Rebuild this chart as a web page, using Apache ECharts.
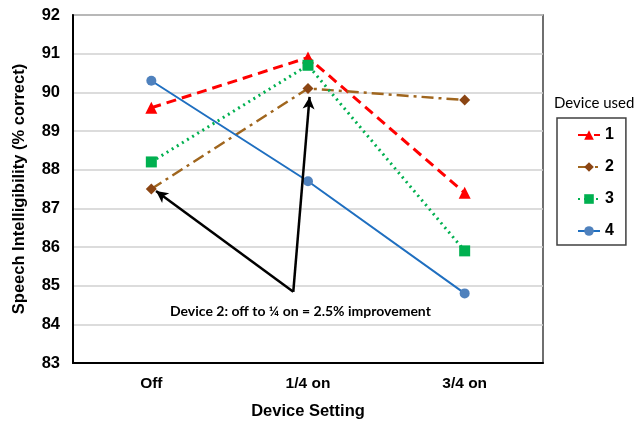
<!DOCTYPE html>
<html><head><meta charset="utf-8">
<script src="https://cdn.jsdelivr.net/npm/echarts@6/dist/echarts.min.js"></script>
<style>html,body{margin:0;padding:0;background:#fff}#c{width:636px;height:421px}</style>
</head><body><div id="c"></div>
<script>
const categories = ['Off', '1/4 on', '3/4 on'];
const device1 = [89.6, 90.9, 87.4];
const device2 = [87.5, 90.1, 89.8];
const device3 = [88.2, 90.7, 85.9];
const device4 = [90.3, 87.7, 84.8];
const seriesNames = ['1', '2', '3', '4'];
const yTicks = {min: 83, max: 92, interval: 1};
// annotation arrows in data units: [x index, y value]
const arrowStart = [0.906, 84.84];
const arrowEnd1 = [0.03, 87.45];
const arrowEnd2 = [1.01, 89.88];
const annotationText = 'Device 2: off to \u00BC on = 2.5% improvement';

const chart = echarts.init(document.getElementById('c'));
const mk = (name, data, color, mColor, lw, ltype, symbol, ssize) => ({
  name, type: 'line', data, symbol, symbolSize: ssize,
  lineStyle: {color, width: lw, type: ltype},
  itemStyle: {color: mColor, borderWidth: 0},
  emphasis: {disabled: true}, z: 3
});
const boldFont = 'Liberation Sans, Arial';
chart.setOption({
  animation: false,
  grid: {left: 73, right: 93, top: 15, bottom: 58, show: true, borderColor: '#404040', borderWidth: 1.5,
         outerBoundsMode: 'none', containLabel: false},
  legend: {
    data: seriesNames, orient: 'vertical', left: 557, top: 118,
    padding: [9, 12, 6, 20], itemGap: 16, itemWidth: 22, itemHeight: 12,
    borderColor: '#404040', borderWidth: 1.5,
    textStyle: {fontFamily: boldFont, fontWeight: 'bold', fontSize: 16, color: '#000'},
    selectedMode: false
  },
  xAxis: [{
    type: 'category', data: categories, boundaryGap: true,
    axisLine: {lineStyle: {color: '#000', width: 2}},
    axisTick: {show: false},
    axisLabel: {fontFamily: boldFont, fontWeight: 'bold', fontSize: 15.5, color: '#000', margin: 13},
    name: 'Device Setting', nameLocation: 'middle', nameGap: 40,
    nameTextStyle: {fontFamily: boldFont, fontWeight: 'bold', fontSize: 16.5, color: '#000'}
  }, {
    type: 'value', min: -0.5, max: 2.5, show: false
  }],
  yAxis: {
    type: 'value', min: yTicks.min, max: yTicks.max, interval: yTicks.interval,
    axisLine: {show: true, onZero: false, lineStyle: {color: '#000', width: 2}},
    axisTick: {show: false},
    splitLine: {lineStyle: {color: '#D0D0D0', width: 1.5}},
    axisLabel: {fontFamily: boldFont, fontWeight: 'bold', fontSize: 16.5, color: '#000', margin: 13},
    name: 'Speech Intelligibility (% correct)', nameLocation: 'middle', nameGap: 45,
    nameTextStyle: {fontFamily: boldFont, fontWeight: 'bold', fontSize: 16.5, color: '#000'}
  },
  series: [
    mk(seriesNames[0], device1, '#FF0000', '#FF0000', 3, [10, 6], 'triangle', 12),
    mk(seriesNames[1], device2, '#A0661E', '#8B4513', 2.5, [12, 5, 3, 5], 'diamond', 11),
    mk(seriesNames[2], device3, '#00B050', '#00B050', 3, [2, 4], 'rect', 11),
    mk(seriesNames[3], device4, '#1F6FC0', '#4F81BD', 2, 'solid', 'circle', 10),
    {
      name: 'arrows', type: 'line', xAxisIndex: 1, data: [], silent: true, z: 5,
      markLine: {
        silent: true, symbol: ['none', 'arrow'], symbolSize: [9, 12], animation: false,
        label: {show: false},
        lineStyle: {color: '#000', width: 2.5, type: 'solid'},
        emphasis: {disabled: true},
        data: [
          [{coord: arrowStart}, {coord: arrowEnd1}],
          [{coord: arrowStart}, {coord: arrowEnd2}]
        ]
      }
    }
  ],
  graphic: [
    {type: 'text', left: 554, top: 96, style: {text: 'Device used', fontFamily: 'Lato, Open Sans', fontSize: 15, fill: '#000'}},
    {type: 'text', left: 170, top: 304, style: {text: annotationText, fontFamily: 'Lato, Open Sans', fontWeight: 'bold', fontSize: 14, fill: '#000'}}
  ]
});
</script></body></html>
